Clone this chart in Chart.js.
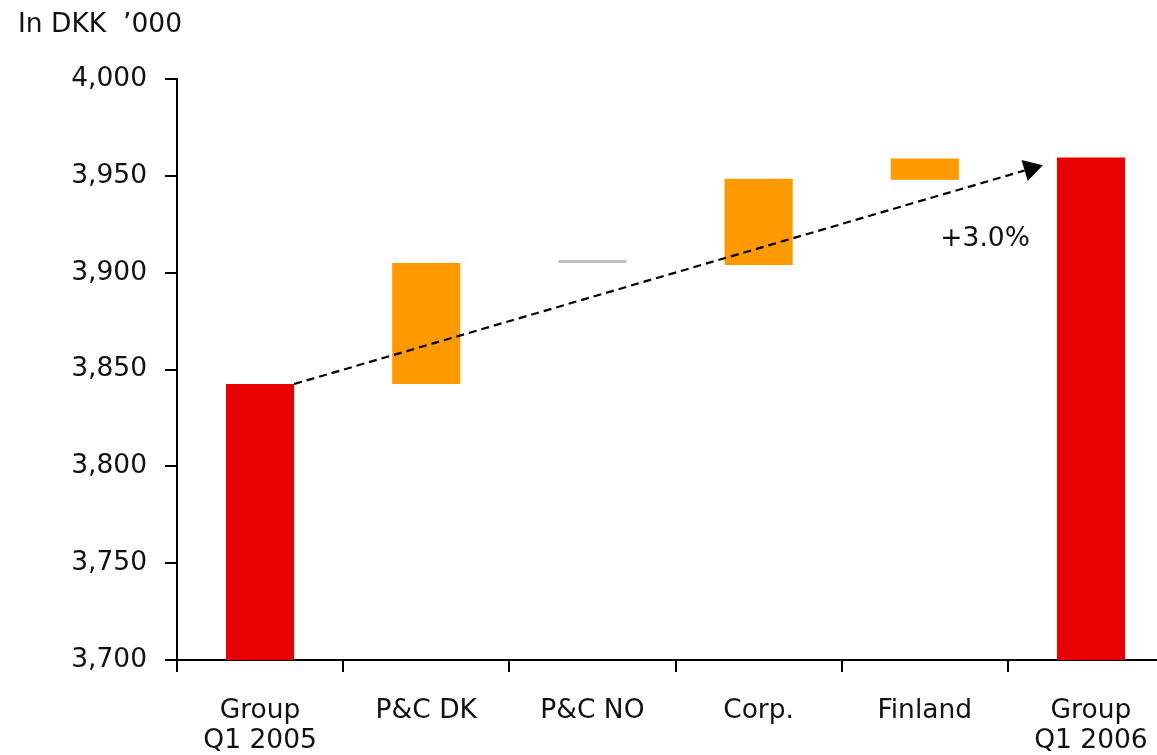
<!DOCTYPE html>
<html>
<head>
<meta charset="utf-8">
<script src="https://cdn.jsdelivr.net/npm/chart.js@4"></script>
<style>
  html, body { margin: 0; padding: 0; background: #fff; overflow: hidden; }
  .container { width: 1157px; height: 755px; overflow: hidden; }
  .wrap { width: 1174px; height: 755px; }
</style>
</head>
<body>
<div class="container"><div class="wrap"><canvas id="myChart" width="1174" height="755"></canvas></div></div>
<script>
const categories = [["Group", "Q1 2005"], "P&C DK", "P&C NO", "Corp.", "Finland", ["Group", "Q1 2006"]];
const barStart = [3700, 3842.5, 3905, 3904, 3948, 3700];
const barEnd = [3842.5, 3905, 3905, 3948.5, 3959, 3959.5];
const barColors = ["#e60000", "#ff9900", "#c0c0c0", "#ff9900", "#ff9900", "#e60000"];
const yTicks = { min: 3700, max: 4000, step: 50 };
const growthLabel = "+3.0%";
const arrowEnd = 3955.5;     // value where the arrow tip points
const growthLabelAt = 3917.5;  // value for the +3.0% text

const fontFamily = "'DejaVu Sans', Verdana, sans-serif";
const fontSize = 26.5;
Chart.defaults.font.family = fontFamily;
Chart.defaults.color = "#111";

// dashed growth arrow from first total bar to last total bar
const growthArrow = {
    id: "growthArrow",
    afterDatasetsDraw(chart) {
        const ctx = chart.ctx;
        const y = chart.scales.y;
        const bars = chart.getDatasetMeta(0).data;
        const first = bars[0], last = bars[bars.length - 1];
        const x0 = first.x + first.width / 2;
        const y0 = y.getPixelForValue(barEnd[0]);
        const x1 = last.x - last.width / 2 - 14;
        const y1 = y.getPixelForValue(arrowEnd);
        const ang = Math.atan2(y1 - y0, x1 - x0);
        const headLen = 19, headHalf = 11;
        const bx = x1 - headLen * Math.cos(ang), by = y1 - headLen * Math.sin(ang);
        ctx.save();
        ctx.strokeStyle = "#000";
        ctx.lineWidth = 2.2;
        ctx.setLineDash([8, 5]);
        ctx.beginPath();
        ctx.moveTo(x0, y0);
        ctx.lineTo(bx, by);
        ctx.stroke();
        ctx.setLineDash([]);
        ctx.fillStyle = "#000";
        ctx.beginPath();
        ctx.moveTo(x1, y1);
        ctx.lineTo(bx + headHalf * Math.sin(ang), by - headHalf * Math.cos(ang));
        ctx.lineTo(bx - headHalf * Math.sin(ang), by + headHalf * Math.cos(ang));
        ctx.closePath();
        ctx.fill();
        ctx.font = fontSize + "px " + fontFamily;
        ctx.textAlign = "right";
        ctx.textBaseline = "middle";
        ctx.fillStyle = "#111";
        ctx.fillText(growthLabel, x1 - 13, y.getPixelForValue(growthLabelAt));
        ctx.restore();
    }
};

const ctx = document.getElementById("myChart").getContext("2d");
const myChart = new Chart(ctx, {
    type: "bar",
    data: {
        labels: categories,
        datasets: [{
            data: barStart.map((s, i) => [s, barEnd[i]]),
            backgroundColor: barColors,
            borderWidth: 0,
            minBarLength: 3,
            barPercentage: 0.41,
            categoryPercentage: 1
        }]
    },
    options: {
        responsive: false,
        animation: false,
        layout: { padding: { left: 18, right: 0, top: 0, bottom: 0 } },
        plugins: {
            legend: { display: false },
            tooltip: { enabled: false },
            title: {
                display: true,
                text: "In DKK  \u2019000",
                align: "start",
                color: "#111",
                font: { size: fontSize, weight: "normal", lineHeight: 1.2 },
                padding: { top: 9, bottom: 38.2 }
            }
        },
        scales: {
            x: {
                grid: { drawOnChartArea: false, tickLength: 12, color: "#000", lineWidth: 2, offset: true },
                border: { color: "#000", width: 2 },
                ticks: { font: { size: fontSize, lineHeight: 1.1 }, padding: 25, maxRotation: 0, autoSkip: false, color: "#111" },
                afterFit(scale) { scale.height = 95; }
            },
            y: {
                min: yTicks.min,
                max: yTicks.max,
                grid: { drawOnChartArea: false, tickLength: 12, color: "#000", lineWidth: 2 },
                border: { color: "#000", width: 2 },
                ticks: {
                    stepSize: yTicks.step,
                    font: { size: fontSize },
                    padding: 18,
                    color: "#111",
                    callback: v => v.toLocaleString("en-US")
                },
                afterFit(scale) { scale.width = 159; }
            }
        }
    },
    plugins: [growthArrow]
});
</script>
</body>
</html>
